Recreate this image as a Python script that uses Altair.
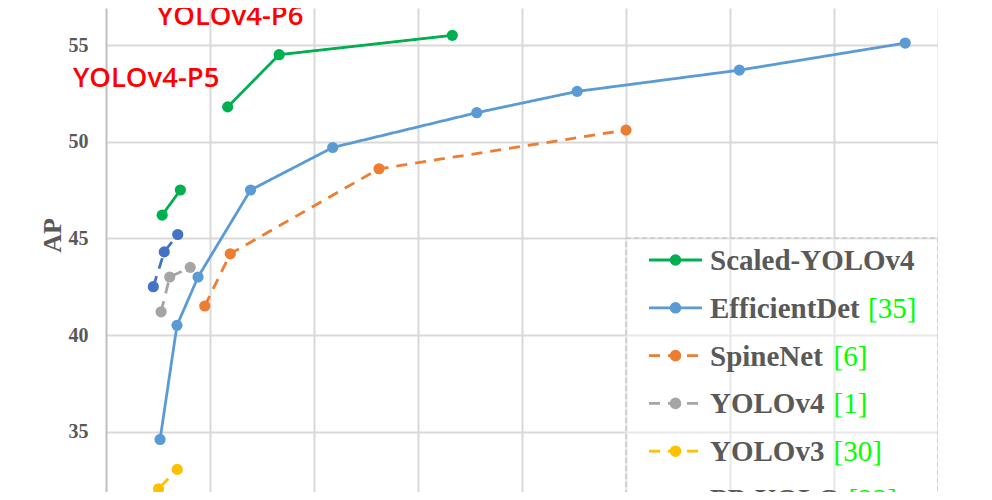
import altair as alt
import pandas as pd

# ---------------- data (latency ms, AP) ----------------
series_names = ["Scaled-YOLOv4", "EfficientDet", "SpineNet", "YOLOv4", "YOLOv3", "PP-YOLO"]
series_refs = ["", "[35]", "[6]", "[1]", "[30]", "[22]"]
series_colors = ["#00b050", "#5b9bd5", "#ed7d31", "#a5a5a5", "#ffc000", "#4472c4"]
series_dashed = [False, False, True, True, True, True]

scaled_ms = [10.8, 14.3, 23.4, 33.3, 66.6]
scaled_ap = [46.2, 47.5, 51.8, 54.5, 55.5]
scaled_grp = [0, 0, 1, 1, 1]

effdet_ms = [10.4, 13.65, 17.7, 27.8, 43.6, 71.3, 90.6, 121.8, 153.7]
effdet_ap = [34.6, 40.5, 43.0, 47.5, 49.7, 51.5, 52.6, 53.7, 55.1]

spinenet_ms = [19.0, 23.9, 52.5, 100.0]
spinenet_ap = [41.5, 44.2, 48.6, 50.6]

yolov4_ms = [10.6, 12.25, 16.2]
yolov4_ap = [41.2, 43.0, 43.5]

yolov3_ms = [8.8, 10.1, 13.7]
yolov3_ap = [31.3, 32.05, 33.05]

ppyolo_ms = [9.1, 11.2, 13.8]
ppyolo_ap = [42.5, 44.3, 45.2]

annot_texts = ["YOLOv4-P5", "YOLOv4-P6"]

# ---------------- build tables ----------------
rows = []
def add(name, xs, ys, grps=None):
    for i, (x, y) in enumerate(zip(xs, ys)):
        rows.append({"series": name, "ms": x, "ap": y,
                     "grp": f"{name}-{grps[i] if grps else 0}", "ord": i})

add("Scaled-YOLOv4", scaled_ms, scaled_ap, scaled_grp)
add("EfficientDet", effdet_ms, effdet_ap)
add("SpineNet", spinenet_ms, spinenet_ap)
add("YOLOv4", yolov4_ms, yolov4_ap)
add("YOLOv3", yolov3_ms, yolov3_ap)
add("PP-YOLO", ppyolo_ms, ppyolo_ap)
df = pd.DataFrame(rows)

# ---------------- geometry ----------------
W, H = 832, 484
X0, X1 = 0, 160
Y0, Y1 = 31.881, 56.914
PAD_L = 98

def px2x(px):  # page px -> ms
    return (px - 8 - PAD_L) / W * (X1 - X0) + X0

def py2y(py):  # page px -> AP
    return Y1 - (py - 8) / H * (Y1 - Y0)

GREY = "#595959"
SERIF = "Liberation Serif"

color_scale = alt.Scale(domain=series_names, range=series_colors)
dash_scale = alt.Scale(domain=series_names,
                       range=[[11, 8] if d else [1, 0] for d in series_dashed])
leg_dash_scale = alt.Scale(domain=series_names,
                           range=[[11, 32] if d else [1, 0] for d in series_dashed])

def X(field):
    return alt.X(field, type="quantitative",
                 scale=alt.Scale(domain=[X0, X1], nice=False, zero=False),
                 axis=alt.Axis(values=list(range(20, 161, 20)), labels=False, ticks=False,
                               domain=False, title=None, grid=True,
                               gridColor="#d9d9d9", gridWidth=2))

def Y(field):
    return alt.Y(field, type="quantitative",
                 scale=alt.Scale(domain=[Y0, Y1], nice=False, zero=False),
                 axis=alt.Axis(values=[35, 40, 45, 50, 55], title="AP", grid=True,
                               gridColor="#d9d9d9", gridWidth=2,
                               domainColor="#bfbfbf", domainWidth=2,
                               ticks=False, tickSize=0, labelPadding=18,
                               labelFont=SERIF, labelFontSize=20, labelFontWeight="bold",
                               labelColor=GREY,
                               titleFont=SERIF, titleFontSize=26, titleFontWeight="bold",
                               titleColor=GREY, titleX=-46, titleY=227,
                               titleBaseline="alphabetic", titleAlign="center"))

# legend box
box_df = pd.DataFrame({"x1": [100], "x2": [160], "y1": [45], "y2": [Y0 - 2]})
box = alt.Chart(box_df).mark_rect(fill="white", fillOpacity=0.4, stroke="#c8c8c8",
                                  strokeWidth=1.5, strokeDash=[5, 3], clip=True).encode(
    x=X("x1"), x2="x2", y=Y("y1"), y2="y2")

lines = alt.Chart(df).mark_line(strokeWidth=2.8, clip=True).encode(
    x=X("ms"), y=Y("ap"),
    color=alt.Color("series:N", scale=color_scale, legend=None),
    strokeDash=alt.StrokeDash("series:N", scale=dash_scale, legend=None),
    detail="grp:N", order="ord:Q")

points = alt.Chart(df).mark_circle(size=125, opacity=1, clip=True).encode(
    x=X("ms"), y=Y("ap"),
    color=alt.Color("series:N", scale=color_scale, legend=None))

annot_df = pd.DataFrame({"label": annot_texts,
                         "tx": [px2x(73), px2x(157)],
                         "ty": [py2y(87.3), py2y(25)]})
annots = alt.Chart(annot_df).mark_text(align="left", baseline="alphabetic", font="Open Sans",
                                       fontSize=27.5, fontWeight=600, color="#ff0000").encode(
    x=X("tx"), y=Y("ty"), text="label:N")

# custom legend
ref_px = [None, 868, 833.5, 833.5, 833.5, 848.5]
leg_rows = []
for i, name in enumerate(series_names):
    cy = 260 + 47.8 * i
    leg_rows.append({"series": name, "ref": series_refs[i],
                     "lx1": px2x(649), "lx2": px2x(702), "lc": px2x(675.5),
                     "lt": px2x(710), "lr": px2x(ref_px[i]) if ref_px[i] else px2x(710),
                     "ly": py2y(cy)})
leg_df = pd.DataFrame(leg_rows)

leg_lines = alt.Chart(leg_df).mark_rule(strokeWidth=2.8, clip=True).encode(
    x=X("lx1"), x2="lx2", y=Y("ly"),
    color=alt.Color("series:N", scale=color_scale, legend=None),
    strokeDash=alt.StrokeDash("series:N", scale=leg_dash_scale, legend=None))
leg_pts = alt.Chart(leg_df).mark_circle(size=135, opacity=1, clip=True).encode(
    x=X("lc"), y=Y("ly"),
    color=alt.Color("series:N", scale=color_scale, legend=None))
leg_names = alt.Chart(leg_df).mark_text(align="left", baseline="middle", font=SERIF,
                                        fontSize=29, fontWeight="bold", color=GREY,
                                        dy=1).encode(
    x=X("lt"), y=Y("ly"), text="series:N")
leg_refs = alt.Chart(leg_df).mark_text(align="left", baseline="middle", font=SERIF,
                                       fontSize=29, color="#00ff00", dy=1).encode(
    x=X("lr"), y=Y("ly"), text="ref:N")

chart = alt.layer(box, lines, points, annots, leg_lines, leg_pts, leg_names, leg_refs).properties(
    width=W, height=H,
    autosize=alt.AutoSizeParams(type="none"),
    padding={"left": PAD_L, "top": 0, "right": 0, "bottom": 0},
).configure_view(stroke=None)

chart.save("out.html", embed_options={"renderer": "svg", "actions": False})
